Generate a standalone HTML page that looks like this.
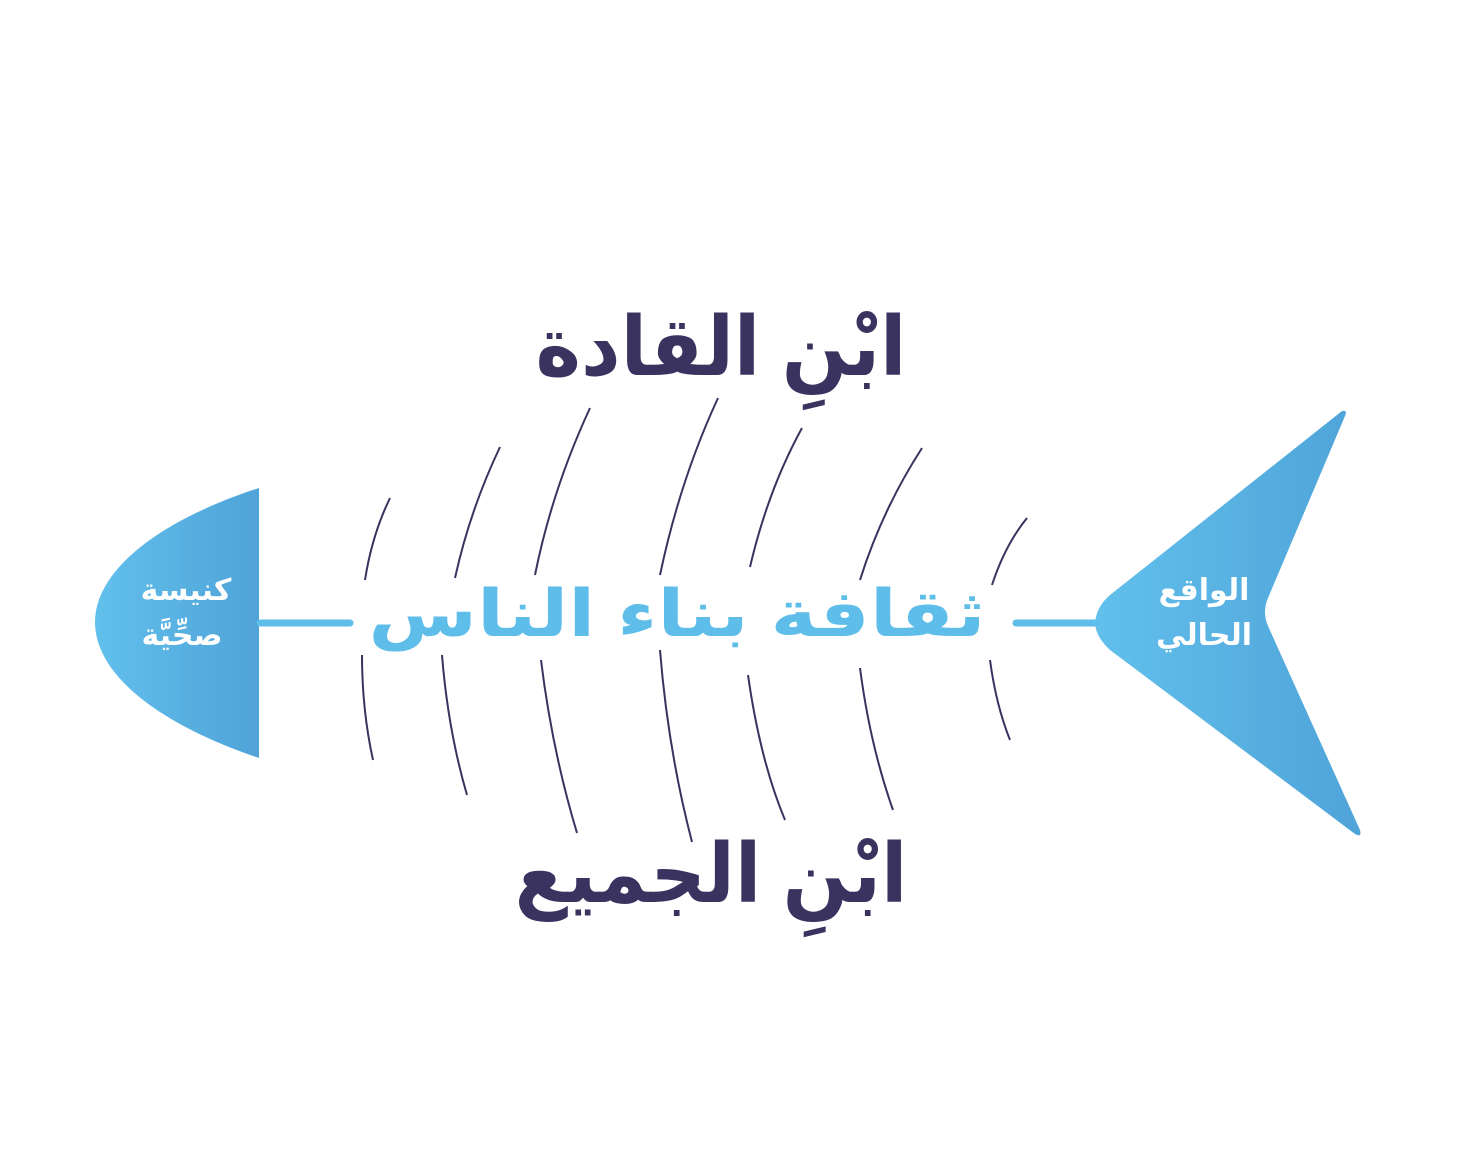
<!DOCTYPE html>
<html><head><meta charset="utf-8"><style>
html,body{margin:0;padding:0;background:#fff;}
svg{display:block}
text{font-family:"Liberation Sans","Noto Sans CJK SC","DejaVu Sans",sans-serif;font-weight:bold;}
</style></head><body>
<svg width="1476" height="1151" viewBox="0 0 1476 1151" xmlns="http://www.w3.org/2000/svg">
<defs>
<linearGradient id="g" x1="0" x2="1" y1="0" y2="0">
<stop offset="0" stop-color="#62c0ec"/><stop offset="1" stop-color="#4fa3d8"/>
</linearGradient>
</defs>
<path d="M259,488 C160,520 95,570 95,622 C95,675 160,725 259,758 Z" fill="url(#g)"/>
<path d="M1342,411 Q1348,410 1345,416 L1268,598 Q1262,612 1268,626 L1360,830 Q1362,838 1355,834 L1110,650 Q1095,636 1095,622 Q1097,606 1110,595 Z" fill="url(#g)"/>
<g stroke="#5fbde9" stroke-width="7" stroke-linecap="round">
<line x1="260" y1="623" x2="350" y2="623"/>
<line x1="1016" y1="623" x2="1097" y2="623"/>
</g>
<g stroke="#3a3360" stroke-width="2" fill="none">
<path d="M365,580 Q372,535 390,498"/>
<path d="M455,578 Q470,510 500,447"/>
<path d="M535,575 Q552,490 590,408"/>
<path d="M660,575 Q680,480 718,398"/>
<path d="M750,567 Q768,490 802,428"/>
<path d="M860,580 Q882,510 922,448"/>
<path d="M992,585 Q1005,545 1027,518"/>
<path d="M362,655 Q362,710 373,760"/>
<path d="M442,655 Q448,730 467,795"/>
<path d="M541,660 Q552,750 577,833"/>
<path d="M660,650 Q668,750 692,842"/>
<path d="M748,675 Q760,760 785,820"/>
<path d="M860,668 Q870,745 893,810"/>
<path d="M990,660 Q996,705 1010,740"/>
</g>
<g transform="translate(677,636) scale(1.27,1.05)"><text x="0" y="0" font-size="62" fill="#5fbde9" text-anchor="middle" direction="rtl">ثقافة بناء الناس</text></g>
<g transform="translate(721,375) scale(0.94,1)"><text x="0" y="0" font-size="82" fill="#3a3360" text-anchor="middle" direction="rtl">ابْنِ القادة</text></g>
<g transform="translate(711,902) scale(0.94,1)"><text x="0" y="0" font-size="82" fill="#3a3360" text-anchor="middle" direction="rtl">ابْنِ الجميع</text></g>
<text x="186" y="600" font-size="30" fill="#fff" text-anchor="middle" direction="rtl">كنيسة</text>
<text x="182" y="645" font-size="30" fill="#fff" text-anchor="middle" direction="rtl">صحِّيَّة</text>
<text x="1204" y="600" font-size="30" fill="#fff" text-anchor="middle" direction="rtl">الواقع</text>
<text x="1204" y="645" font-size="30" fill="#fff" text-anchor="middle" direction="rtl">الحالي</text>
</svg>
</body></html>
